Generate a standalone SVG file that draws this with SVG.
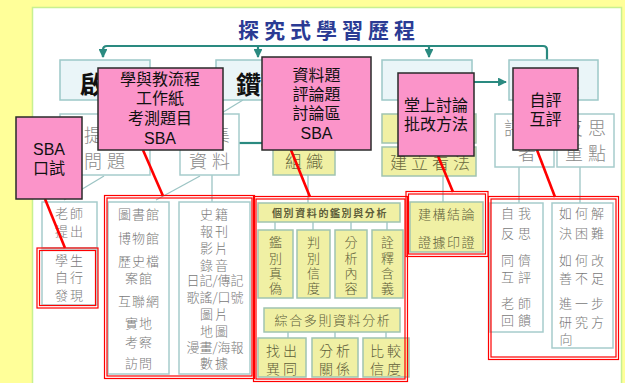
<svg xmlns="http://www.w3.org/2000/svg" width="625" height="383" viewBox="0 0 625 383">
<defs>
<style>
.top{fill:#eaf5f8;stroke:#9cc8c8;stroke-width:1.5}
.gbox{fill:#ffffff;stroke:#a6cccc;stroke-width:1.5}
.ybox{fill:#f0f0a4;stroke:#a0c4b0;stroke-width:1.5}
.pink{fill:#fb94c9;stroke:#2a2a2a;stroke-width:1.5}
.red2{fill:none;stroke:#ff0000;stroke-width:1.2}
.big{font-family:"Noto Sans CJK TC","Noto Sans CJK SC",sans-serif;font-size:25px;font-weight:bold;fill:#111;text-anchor:middle}
.mid{font-family:"Noto Sans CJK TC","Noto Sans CJK SC",sans-serif;font-size:18px;font-weight:300;fill:#8a8a8a;text-anchor:middle}
.ymid{font-family:"Noto Sans CJK TC","Noto Sans CJK SC",sans-serif;font-size:17px;font-weight:300;fill:#6a6a40;text-anchor:middle}
.sm{font-family:"Noto Sans CJK TC","Noto Sans CJK SC",sans-serif;font-size:13px;font-weight:300;fill:#7a7a7a;text-anchor:middle}
.ysm{font-family:"Noto Sans CJK TC","Noto Sans CJK SC",sans-serif;font-size:13px;font-weight:300;fill:#5e5e3a;text-anchor:middle}
.pt{font-family:"Liberation Sans","Noto Sans CJK TC",sans-serif;font-size:16px;fill:#111;text-anchor:middle}
.lc{stroke:#9cc4c4;stroke-width:1.3;fill:none}
.dc{stroke:#2a8a80;stroke-width:2.2;fill:none}
.rl{stroke:#ff0000;stroke-width:2.6;fill:none}
</style>
<marker id="ah" viewBox="0 0 10 10" refX="9" refY="5" markerWidth="4" markerHeight="4" orient="auto">
<path d="M0,0 L10,5 L0,10 z" fill="#2a8a80"/>
</marker>
</defs>

<rect x="0" y="0" width="625" height="383" fill="#ffff99"/>
<rect x="32.5" y="7.5" width="589" height="380" fill="#ffffff" stroke="#c8f090" stroke-width="1.5"/>

<text id="title" x="329" y="38" font-family="Noto Sans CJK TC, Noto Sans CJK SC, sans-serif" font-size="21" font-weight="bold" fill="#2a3b94" text-anchor="middle" letter-spacing="5">探究式學習歷程</text>

<g id="connectors">
<path class="dc" d="M103,57 V50 Q103,46 107,46 H543 Q547,46 547,50 V60"/>
<path class="dc" d="M103,50 V57" marker-end="url(#ah)"/>
<path class="dc" d="M258,46 V57" marker-end="url(#ah)"/>
<path class="dc" d="M429,46 V57" marker-end="url(#ah)"/>
<path class="dc" d="M472,82 H506" marker-end="url(#ah)"/>
<path class="dc" d="M239,143 H262"/>
<path class="lc" d="M243,100 L220,114"/>
<path class="lc" d="M104,176 L64,200"/>
<path class="lc" d="M200,176 L156,200"/>
<path class="lc" d="M212,175 V202"/>
<path class="lc" d="M308,175 V203"/>
<path class="lc" d="M443,176 V202"/>
<path class="lc" d="M519,167 V203"/>
<path class="lc" d="M580,167 V203"/>
<path class="lc" d="M275,222 V230 M313,222 V230 M351,222 V230 M387,222 V230"/>
<path class="lc" d="M288,332 V338 M335,332 V338 M386,332 V338"/>
</g>

<g id="n-qifa"><rect class="top" x="60" y="60" width="90" height="40"/><text class="big" x="105" y="94">啟發</text></g>
<g id="n-zuanyan"><rect class="top" x="216" y="60" width="90" height="40"/><text class="big" x="261" y="94">鑽研</text></g>
<g id="n-jiantao"><rect class="top" x="382" y="60" width="90" height="40"/><text class="big" x="427" y="95">檢討</text></g>
<g id="n-pingjian"><rect class="top" x="509" y="60" width="89" height="40"/><text class="big" x="554" y="95">評鑒</text></g>

<g id="n-tichu"><rect class="gbox" x="60" y="114" width="90" height="61"/><text class="mid" x="107" y="142" style="letter-spacing:5px">提出</text><text class="mid" x="107" y="168" style="letter-spacing:5px">問題</text></g>
<g id="n-souji"><rect class="gbox" x="180" y="114" width="59" height="61"/><text class="mid" x="212" y="142" style="letter-spacing:5px">搜集</text><text class="mid" x="212" y="168" style="letter-spacing:5px">資料</text></g>
<g id="n-zuzhi"><rect class="ybox" x="273" y="147" width="62" height="28"/><text class="ymid" x="306" y="168" style="letter-spacing:4px">組織</text></g>
<g id="n-upper"><rect class="ybox" x="382" y="114" width="94" height="29"/></g>
<g id="n-jianli"><rect class="ybox" x="382" y="147" width="94" height="29"/><text class="ymid" x="432" y="169" style="letter-spacing:4px">建立看法</text></g>
<g id="n-pingzhe"><rect class="gbox" x="495" y="114" width="59" height="53"/><text class="mid" x="527" y="135" style="letter-spacing:5px">評估</text><text class="mid" x="527" y="160">者</text></g>
<g id="n-fansi"><rect class="gbox" x="557" y="114" width="57" height="53"/><text class="mid" x="588" y="135" style="letter-spacing:5px">反思</text><text class="mid" x="588" y="160" style="letter-spacing:5px">重點</text></g>

<g id="n-laoshi"><rect class="gbox" x="42" y="202" width="55" height="46"/><text class="sm" x="70" y="218" style="letter-spacing:2px">老師</text><text class="sm" x="70" y="236" style="letter-spacing:2px">提出</text></g>
<g id="n-xuesheng"><rect class="gbox" x="42" y="250" width="55" height="55"/><text class="sm" x="70" y="265" style="letter-spacing:2px">學生</text><text class="sm" x="70" y="282" style="letter-spacing:2px">自行</text><text class="sm" x="70" y="300" style="letter-spacing:2px">發現</text>
<rect class="red2" x="39.5" y="250.5" width="56" height="55"/><rect class="red2" x="37" y="248" width="61" height="60"/></g>

<g id="n-sources">
<rect class="gbox" x="108" y="202" width="61" height="172"/>
<text class="sm" x="139" y="219" style="letter-spacing:1px">圖書館</text><text class="sm" x="139" y="243" style="letter-spacing:1px">博物館</text><text class="sm" x="139" y="266" style="letter-spacing:1px">歷史檔</text><text class="sm" x="139" y="283" style="letter-spacing:1px">案館</text><text class="sm" x="139" y="306" style="letter-spacing:1px">互聯網</text><text class="sm" x="139" y="328" style="letter-spacing:1px">實地</text><text class="sm" x="139" y="347" style="letter-spacing:1px">考察</text><text class="sm" x="139" y="368" style="letter-spacing:1px">訪問</text>
<rect class="gbox" x="179" y="202" width="71" height="172"/>
<text class="sm" x="215" y="219" style="letter-spacing:2px">史籍</text><text class="sm" x="215" y="236" style="letter-spacing:2px">報刊</text><text class="sm" x="215" y="253" style="letter-spacing:2px">影片</text><text class="sm" x="215" y="270" style="letter-spacing:2px">錄音</text><text class="sm" x="215" y="285">日記/傳記</text><text class="sm" x="215" y="302">歌謠/口號</text><text class="sm" x="215" y="319" style="letter-spacing:2px">圖片</text><text class="sm" x="215" y="336" style="letter-spacing:2px">地圖</text><text class="sm" x="215" y="352">漫畫/海報</text><text class="sm" x="215" y="368" style="letter-spacing:2px">數據</text>
<rect class="red2" x="107" y="198" width="145" height="178"/><rect class="red2" x="104.5" y="195.5" width="150" height="183"/>
</g>

<g id="n-analysis">
<rect class="ybox" x="258" y="203" width="142" height="19"/>
<text class="ysm" x="330" y="216.5" style="font-size:10px;font-weight:bold;letter-spacing:1.6px">個別資料的鑑別與分析</text>
<rect class="ybox" x="258" y="230" width="35" height="68"/><rect class="ybox" x="297" y="230" width="33" height="68"/><rect class="ybox" x="335" y="230" width="32" height="68"/><rect class="ybox" x="372" y="230" width="31" height="68"/>
<g class="ysm">
<text x="275.5" y="247">鑑</text><text x="275.5" y="263">別</text><text x="275.5" y="278">真</text><text x="275.5" y="293">偽</text>
<text x="313.5" y="247">判</text><text x="313.5" y="263">別</text><text x="313.5" y="278">信</text><text x="313.5" y="293">度</text>
<text x="351" y="247">分</text><text x="351" y="263">析</text><text x="351" y="278">內</text><text x="351" y="293">容</text>
<text x="387.5" y="247">詮</text><text x="387.5" y="263">釋</text><text x="387.5" y="278">含</text><text x="387.5" y="293">義</text>
</g>
<rect class="ybox" x="264" y="308" width="136" height="24"/>
<text class="ysm" x="333" y="325" style="letter-spacing:1.6px">綜合多則資料分析</text>
<rect class="ybox" x="258" y="338" width="48" height="39"/><rect class="ybox" x="312" y="338" width="46" height="39"/><rect class="ybox" x="363" y="338" width="46" height="39"/>
<text class="ysm" x="283" y="356" style="font-size:14px;letter-spacing:3px">找出</text><text class="ysm" x="283" y="374" style="font-size:14px;letter-spacing:3px">異同</text>
<text class="ysm" x="336" y="356" style="font-size:14px;letter-spacing:3px">分析</text><text class="ysm" x="336" y="374" style="font-size:14px;letter-spacing:3px">關係</text>
<text class="ysm" x="387" y="356" style="font-size:14px;letter-spacing:3px">比較</text><text class="ysm" x="387" y="374" style="font-size:14px;letter-spacing:3px">信度</text>
<rect class="red2" x="256" y="199" width="149" height="180"/><rect class="red2" x="253.5" y="196.5" width="154" height="185"/>
</g>

<g id="n-jiangou">
<rect class="ybox" x="410" y="202" width="73" height="50"/>
<text class="ysm" x="447" y="219" style="letter-spacing:1.5px">建構結論</text><text class="ysm" x="447" y="247" style="letter-spacing:1.5px">證據印證</text>
<rect class="red2" x="408.5" y="194" width="77" height="60"/><rect class="red2" x="406" y="191.5" width="82" height="65"/>
</g>

<g id="n-reflect">
<rect class="gbox" x="490" y="203" width="53" height="129"/>
<text class="sm" x="518" y="218" style="letter-spacing:4px">自我</text><text class="sm" x="518" y="238" style="letter-spacing:4px">反思</text><text class="sm" x="518" y="265" style="letter-spacing:4px">同儕</text><text class="sm" x="518" y="282" style="letter-spacing:4px">互評</text><text class="sm" x="518" y="308" style="letter-spacing:4px">老師</text><text class="sm" x="518" y="325" style="letter-spacing:4px">回饋</text>
<rect class="gbox" x="552" y="203" width="61" height="145"/>
<text class="sm" x="583" y="218" style="letter-spacing:3px">如何解</text><text class="sm" x="583" y="238" style="letter-spacing:3px">決困難</text><text class="sm" x="583" y="265" style="letter-spacing:3px">如何改</text><text class="sm" x="583" y="283" style="letter-spacing:3px">善不足</text><text class="sm" x="583" y="308" style="letter-spacing:3px">進一步</text><text class="sm" x="583" y="327" style="letter-spacing:3px">研究方</text><text class="sm" x="566" y="344">向</text>
<rect class="red2" x="491" y="199" width="125" height="158"/><rect class="red2" x="488.5" y="196.5" width="130" height="163"/>
</g>

<g id="callout-links">
<path class="rl" d="M45,199 L65,248"/>
<path class="rl" d="M143,150 L163,196"/>
<path class="rl" d="M291,150 L310,197"/>
<path class="rl" d="M438,156 L453,192"/>
<path class="rl" d="M537,150 L555,197"/>
</g>

<g id="c-oral"><rect class="pink" x="16" y="117" width="66" height="82"/><text class="pt" x="49" y="155">SBA</text><text class="pt" x="49" y="174">口試</text></g>
<g id="c-flow"><rect class="pink" x="98" y="68" width="125" height="82"/><text class="pt" x="160" y="85">學與教流程</text><text class="pt" x="160" y="104">工作紙</text><text class="pt" x="160" y="124">考測題目</text><text class="pt" x="160" y="144">SBA</text></g>
<g id="c-questions"><rect class="pink" x="262" y="57" width="109" height="93"/><text class="pt" x="316.5" y="81">資料題</text><text class="pt" x="316.5" y="100">評論題</text><text class="pt" x="316.5" y="119">討論區</text><text class="pt" x="316.5" y="139">SBA</text></g>
<g id="c-discuss"><rect class="pink" x="398" y="73" width="76" height="83"/><text class="pt" x="436" y="111">堂上討論</text><text class="pt" x="436" y="130">批改方法</text></g>
<g id="c-eval"><rect class="pink" x="513" y="68" width="65" height="82"/><text class="pt" x="545.5" y="106">自評</text><text class="pt" x="545.5" y="125">互評</text></g>
</svg>
